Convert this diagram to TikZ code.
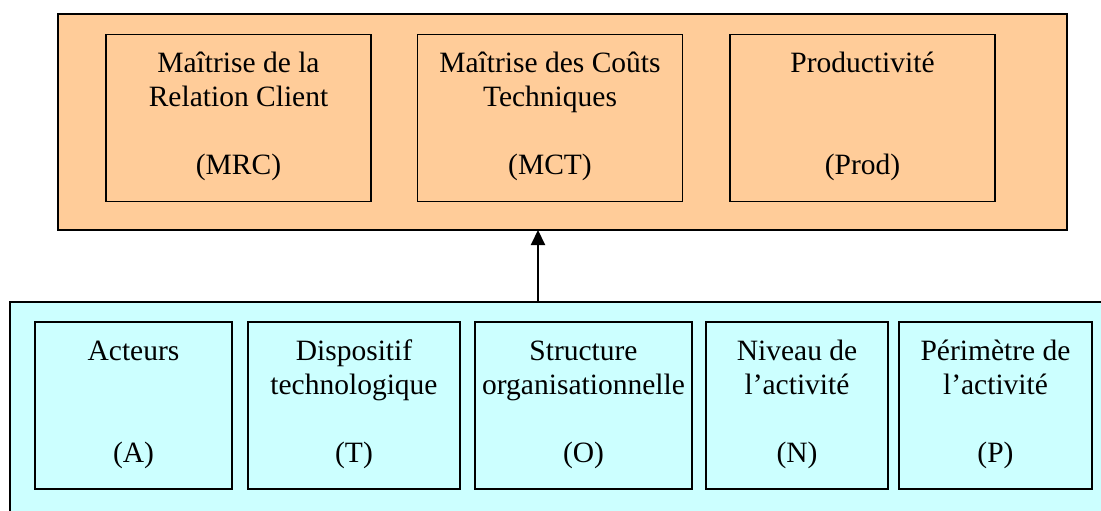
\documentclass[tikz,border=0pt]{standalone}
\usepackage{fontspec}
\setmainfont{Liberation Serif}
\usetikzlibrary{positioning,arrows.meta}
\definecolor{peach}{HTML}{FFCC99}
\definecolor{paleblue}{HTML}{CCFFFF}

\begin{document}
\begin{tikzpicture}[x=1pt,y=-1pt,
  frame/.style={draw,line width=1.8pt,inner sep=0,outer sep=0},
  cell/.style={draw,line width=1.8pt,inner sep=0,outer sep=0,minimum height=167pt},
  lbl/.style={align=center,inner sep=0,font=\fontsize{29.5}{34}\selectfont},
  arr/.style={line width=2pt,-{Triangle[width=14pt,length=15pt]}}]
\useasboundingbox (0,0) rectangle (1101,511);
% niveau haut
\node[frame,fill=peach,minimum width=1009pt,minimum height=216pt] (haut) at (562.5,122) {};
\node[cell,fill=peach,minimum width=265pt] (mrc) at (238.5,118) {};
\node[cell,fill=peach,minimum width=265pt] (mct) at (550,118) {};
\node[cell,fill=peach,minimum width=265pt] (prod) at (862.5,118) {};
\node[lbl,below=14pt of mrc.north] {\strut Maîtrise de la\\Relation Client\\~\\(MRC)\strut};
\node[lbl,below=14pt of mct.north] {\strut Maîtrise des Coûts\\Techniques\\~\\(MCT)\strut};
\node[lbl,below=14pt of prod.north] {\strut Productivité\\~\\~\\(Prod)\strut};
% niveau bas
\node[frame,fill=paleblue,minimum width=1100pt,minimum height=218pt] (bas) at (560,411) {};
\node[cell,fill=paleblue,minimum width=197pt] (act) at (133.5,405.5) {};
\node[cell,fill=paleblue,minimum width=212pt] (tech) at (354,405.5) {};
\node[cell,fill=paleblue,minimum width=217pt] (org) at (583.5,405.5) {};
\node[cell,fill=paleblue,minimum width=182pt] (niv) at (797,405.5) {};
\node[cell,fill=paleblue,minimum width=193pt] (per) at (995.5,405.5) {};
\node[lbl,below=14pt of act.north] {\strut Acteurs\\~\\~\\(A)\strut};
\node[lbl,below=14pt of tech.north] {\strut Dispositif\\technologique\\~\\(T)\strut};
\node[lbl,below=14pt of org.north] {\strut Structure\\organisationnelle\\~\\(O)\strut};
\node[lbl,below=14pt of niv.north] {\strut Niveau de\\l’activité\\~\\(N)\strut};
\node[lbl,below=14pt of per.north] {\strut Périmètre de\\l’activité\\~\\(P)\strut};
% fleche
\coordinate (ax) at (538,0);
\draw[arr] (bas.north -| ax) -- (haut.south -| ax);
\end{tikzpicture}
\end{document}
